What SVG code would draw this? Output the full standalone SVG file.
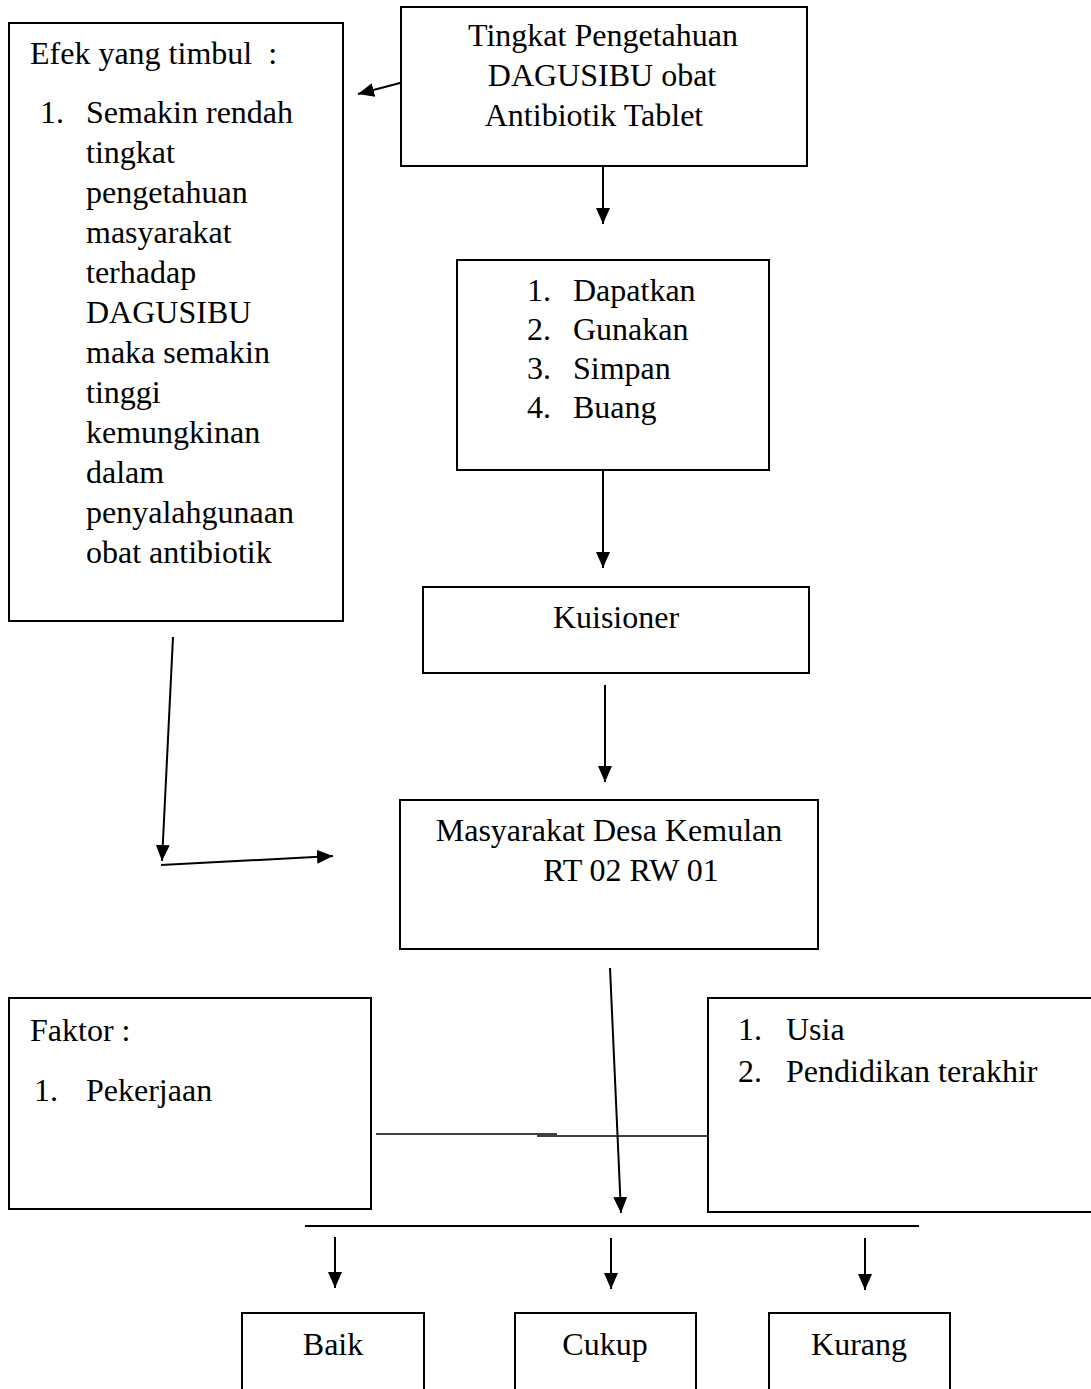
<svg xmlns="http://www.w3.org/2000/svg" width="1091" height="1389" viewBox="0 0 1091 1389">
<style>
.box{fill:#fff;stroke:#000;stroke-width:2}
.t{font-family:"Liberation Serif","Times New Roman",serif;font-size:32px;fill:#000;white-space:pre}
.c{text-anchor:middle}
.ln{stroke:#000;stroke-width:2;fill:none}
.ln1{stroke:#000;stroke-width:1.3;fill:none}
</style>
<defs>
<marker id="ah" viewBox="0 0 16 14" refX="16" refY="7" markerWidth="16" markerHeight="14" markerUnits="userSpaceOnUse" orient="auto">
<path d="M0,0 L16,7 L0,14 z" fill="#000"/>
</marker>
</defs>
<rect width="1091" height="1389" fill="#fff"/>
<g id="efek">
<rect class="box" x="9" y="23" width="334" height="598"/>
<text class="t" x="30" y="64" xml:space="preserve">Efek yang timbul  :</text>
<text class="t" x="40" y="123">1.</text>
<text class="t" x="86" y="123">Semakin rendah</text>
<text class="t" x="86" y="163">tingkat</text>
<text class="t" x="86" y="203">pengetahuan</text>
<text class="t" x="86" y="243">masyarakat</text>
<text class="t" x="86" y="283">terhadap</text>
<text class="t" x="86" y="323">DAGUSIBU</text>
<text class="t" x="86" y="363">maka semakin</text>
<text class="t" x="86" y="403">tinggi</text>
<text class="t" x="86" y="443">kemungkinan</text>
<text class="t" x="86" y="483">dalam</text>
<text class="t" x="86" y="523">penyalahgunaan</text>
<text class="t" x="86" y="563">obat antibiotik</text>
</g>
<g id="tingkat">
<rect class="box" x="401" y="7" width="406" height="159"/>
<text class="t c" x="603" y="46">Tingkat Pengetahuan</text>
<text class="t c" x="602" y="86">DAGUSIBU obat</text>
<text class="t c" x="594" y="126">Antibiotik Tablet</text>
</g>
<g id="dagusibu">
<rect class="box" x="457" y="260" width="312" height="210"/>
<text class="t" x="527" y="301">1.</text><text class="t" x="573" y="301">Dapatkan</text>
<text class="t" x="527" y="340">2.</text><text class="t" x="573" y="340">Gunakan</text>
<text class="t" x="527" y="379">3.</text><text class="t" x="573" y="379">Simpan</text>
<text class="t" x="527" y="418">4.</text><text class="t" x="573" y="418">Buang</text>
</g>
<g id="kuisioner">
<rect class="box" x="423" y="587" width="386" height="86"/>
<text class="t c" x="616" y="628">Kuisioner</text>
</g>
<g id="masyarakat">
<rect class="box" x="400" y="800" width="418" height="149"/>
<text class="t c" x="609" y="841">Masyarakat Desa Kemulan</text>
<text class="t c" x="631" y="881">RT 02 RW 01</text>
</g>
<g id="faktor">
<rect class="box" x="9" y="998" width="362" height="211"/>
<text class="t" x="30" y="1041">Faktor :</text>
<text class="t" x="34" y="1101">1.</text><text class="t" x="86" y="1101">Pekerjaan</text>
</g>
<g id="faktor2">
<rect class="box" x="708" y="998" width="390" height="214"/>
<text class="t" x="738" y="1040">1.</text><text class="t" x="786" y="1040">Usia</text>
<text class="t" x="738" y="1082">2.</text><text class="t" x="786" y="1082">Pendidikan terakhir</text>
</g>
<g id="baik">
<rect class="box" x="242" y="1313" width="182" height="90"/>
<text class="t c" x="333" y="1355">Baik</text>
</g>
<g id="cukup">
<rect class="box" x="515" y="1313" width="181" height="90"/>
<text class="t c" x="605" y="1355">Cukup</text>
</g>
<g id="kurang">
<rect class="box" x="769" y="1313" width="181" height="90"/>
<text class="t c" x="859" y="1355">Kurang</text>
</g>
<g id="connectors">
<line class="ln" x1="400" y1="83" x2="358" y2="94" marker-end="url(#ah)"/>
<line class="ln" x1="603" y1="167" x2="603" y2="224" marker-end="url(#ah)"/>
<line class="ln" x1="603" y1="470" x2="603" y2="568" marker-end="url(#ah)"/>
<line class="ln" x1="605" y1="685" x2="605" y2="782" marker-end="url(#ah)"/>
<line class="ln" x1="173" y1="637" x2="162" y2="861" marker-end="url(#ah)"/>
<line class="ln" x1="161" y1="865" x2="333" y2="856" marker-end="url(#ah)"/>
<line class="ln" x1="610" y1="968" x2="621" y2="1213" marker-end="url(#ah)"/>
<line class="ln1" x1="376" y1="1134" x2="557" y2="1134"/>
<line class="ln1" x1="537" y1="1136" x2="708" y2="1136"/>
<line class="ln" x1="305" y1="1226" x2="919" y2="1226"/>
<line class="ln" x1="335" y1="1237" x2="335" y2="1288" marker-end="url(#ah)"/>
<line class="ln" x1="611" y1="1238" x2="611" y2="1289" marker-end="url(#ah)"/>
<line class="ln" x1="865" y1="1238" x2="865" y2="1290" marker-end="url(#ah)"/>
</g>
</svg>
